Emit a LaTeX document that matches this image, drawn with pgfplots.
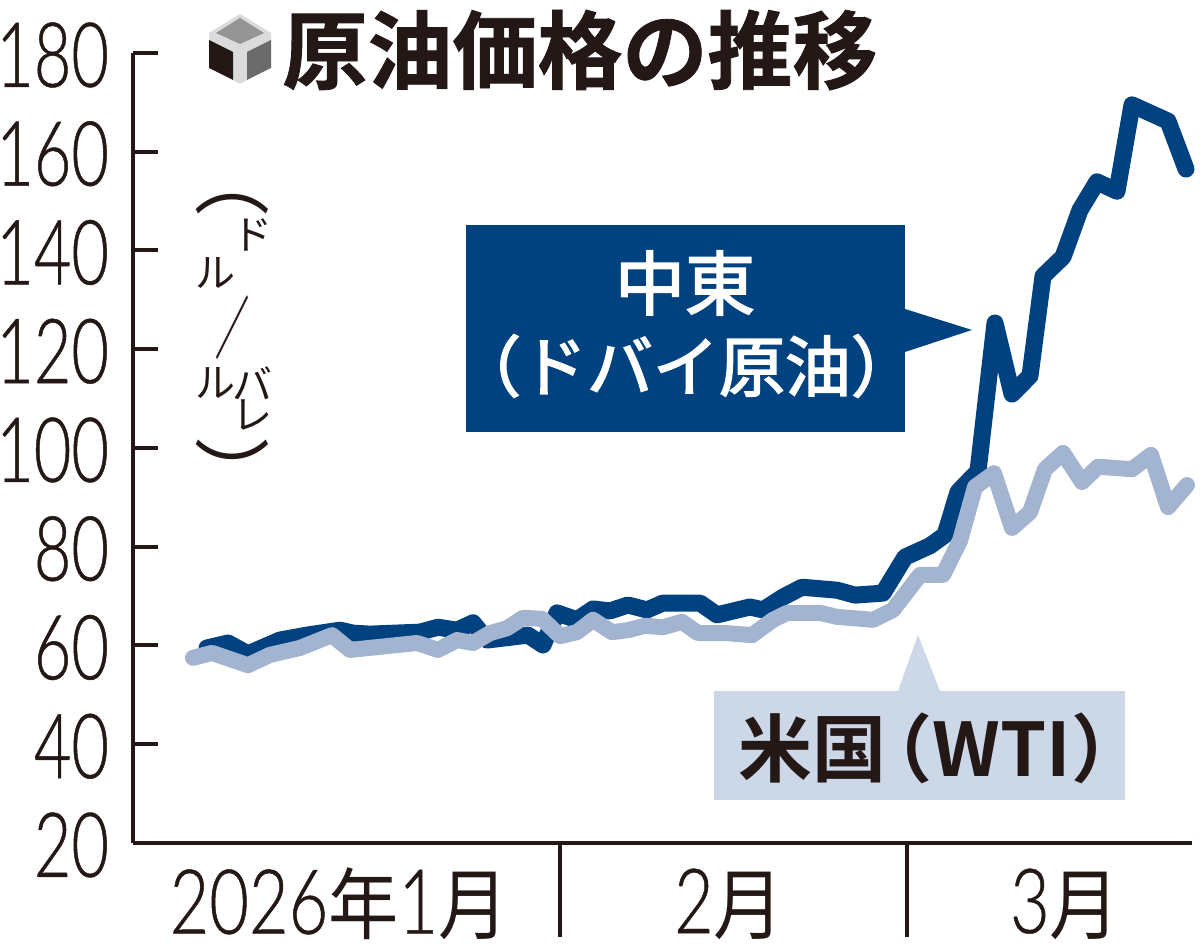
\documentclass[border=0pt]{standalone}
\usepackage{pgfplots}
\pgfplotsset{compat=1.18}
\usepackage{fontspec}
\setmainfont{Liberation Sans}
\newfontfamily\narrowf[FakeStretch=0.72,FakeBold=0.5]{Lato Light}
\newfontfamily\narrowg[FakeStretch=0.76,FakeBold=0.5]{Lato Light}
\newfontfamily\jp{Noto Sans CJK JP}
\newfontfamily\jpn[FakeStretch=0.9]{Noto Sans CJK JP}
\newfontfamily\jpm[FakeBold=2.5]{Noto Sans CJK JP}
\newfontfamily\jpb{Noto Sans CJK JP Bold}
\newfontfamily\jpbb[FakeBold=1]{Noto Sans CJK JP Bold}
\definecolor{dk}{HTML}{00427F}
\definecolor{lt}{HTML}{A3B4D0}
\definecolor{ltbox}{HTML}{CCD7E8}
\definecolor{ink}{HTML}{231815}
\pgfplotstableread{
x y
207 59.5
228 60.5
248 58.3
280 61.1
307 62.1
340 63.1
353 62.5
370 62.3
420 62.7
438 63.7
457 63.1
473 64.6
487 61.1
528 62.1
543 60.1
557 66.6
577 65.2
593 67.4
610 67.0
628 68.2
647 67.2
663 68.6
700 68.6
717 66.2
750 67.8
763 67.2
783 69.8
802 71.8
837 71.2
855 70.2
883 70.6
905 77.9
930 80.2
945 82.4
958 91.1
978 95.3
995 125.3
1012 110.9
1030 114.6
1043 134.8
1063 138.7
1080 148.2
1097 153.9
1117 152.0
1132 169.5
1168 166.2
1186 156.5
}\dubai
\pgfplotstableread{
x y
193 57.5
212 58.5
248 56.0
270 58.1
300 59.5
332 62.1
350 59.1
417 60.5
438 59.1
457 61.1
473 60.5
490 62.5
507 63.5
523 65.6
542 65.4
560 61.9
577 62.7
593 65.2
612 62.7
628 63.1
645 64.0
663 63.7
682 64.8
698 62.5
727 62.5
752 62.1
773 65.2
787 66.6
820 66.6
837 65.8
873 65.2
893 67.2
920 74.3
943 74.3
960 81.2
975 92.1
994 94.9
1012 83.8
1030 87.0
1045 95.7
1063 99.0
1082 93.1
1098 96.2
1132 95.7
1151 98.6
1168 88.0
1187 92.5
}\wti
\begin{document}
\begin{tikzpicture}[inner sep=0pt,outer sep=0pt]
\useasboundingbox (0pt,0pt) rectangle (600pt,472.5pt);
\begin{scope}[x=0.5pt,y=-0.5pt,yshift=472.5pt]
\fill[dk] (466,225) rectangle (905,432);
\fill[dk] (905,309) -- (972,330) -- (905,352) -- cycle;
\fill[ltbox] (714,691) rectangle (1125,800);
\fill[ltbox] (898,691) -- (918,635) -- (940,691) -- cycle;
\end{scope}
\begin{axis}[
  at={(66.5pt,51pt)}, anchor=south west,
  scale only axis, width=529.5pt, height=395pt,
  xmin=133, xmax=1192, ymin=20, ymax=180,
  clip=false,
  axis x line=bottom, axis y line=left,
  axis line style={-, line width=2pt, ink},
  xtick={560,907}, xticklabels={},
  ytick={20,40,...,180},
  tick style={line width=2pt, ink},
  xtick align=outside, ytick align=inside,
  major tick length=12.5pt,
  x tick style={/pgfplots/major tick length=47pt, line width=1.75pt},
  /pgf/number format/assume math mode=true,
  yticklabel style={font=\fontsize{45}{45}\narrowf, text=ink, anchor=east, inner sep=0pt, xshift=-12pt, yshift=-1pt},
]
\addplot[dk, line width=8.5pt, line join=round, line cap=round] table[x=x,y=y] {\dubai};
\addplot[lt, line width=8pt, line join=round, line cap=round] table[x=x,y=y] {\wti};
\end{axis}
\begin{scope}[x=0.5pt,y=-0.5pt,yshift=472.5pt]
\fill[black!14] (209,33)--(240,14)--(271,33)--(271,40)--(247,52)--(247,80)--(240,84)--(233,80)--(233,52)--(209,40)--cycle;
\fill[black!42] (240,18)--(216,33)--(240,44)--(264,33)--cycle;
\fill[ink] (209,40)--(233,52)--(233,80)--(209,68)--cycle;
\fill[black!58] (271,40)--(247,52)--(247,80)--(271,68)--cycle;
\node[text=ink] at (580,50) {\fontsize{42.5}{42.5}\jpbb 原油価格の推移};
\node[text=white] at (685,283) {\fontsize{35}{35}\jpm 中東};
\node[text=white] at (686,366) {\fontsize{33}{33}\jpm （ドバイ原油）};
\node[text=ink] at (942,748) {\fontsize{37}{37}\jpb 米国\hspace{-14pt}（WTI）};
\node[text=ink] at (339,904) {\fontsize{45}{45}\narrowg 2026\jpn\fontsize{39}{39}\selectfont 年\narrowg\fontsize{45}{45}\selectfont 1\jpn\fontsize{39}{39}\selectfont 月};
\node[text=ink] at (729,904) {\fontsize{45}{45}\narrowg 2\jpn\fontsize{39}{39}\selectfont 月};
\node[text=ink] at (1065,904) {\fontsize{45}{45}\narrowg 3\jpn\fontsize{39}{39}\selectfont 月};
\node[text=ink,rotate=-90] at (232,180) {\fontsize{38}{38}\jp （};
\node[text=ink] at (252,235) {\fontsize{20}{20}\jp ド};
\node[text=ink] at (215,273) {\fontsize{20}{20}\jp ル};
\node[text=ink] at (232,328) {\scalebox{0.5}[1]{\fontsize{34}{34}\jpb ／}};
\node[text=ink] at (215,383) {\fontsize{20}{20}\jp ル};
\node[text=ink] at (252,383) {\fontsize{20}{20}\jp バ};
\node[text=ink] at (252,415) {\fontsize{20}{20}\jp レ};
\node[text=ink,rotate=-90] at (232,475) {\fontsize{38}{38}\jp ）};
\end{scope}
\end{tikzpicture}
\end{document}
